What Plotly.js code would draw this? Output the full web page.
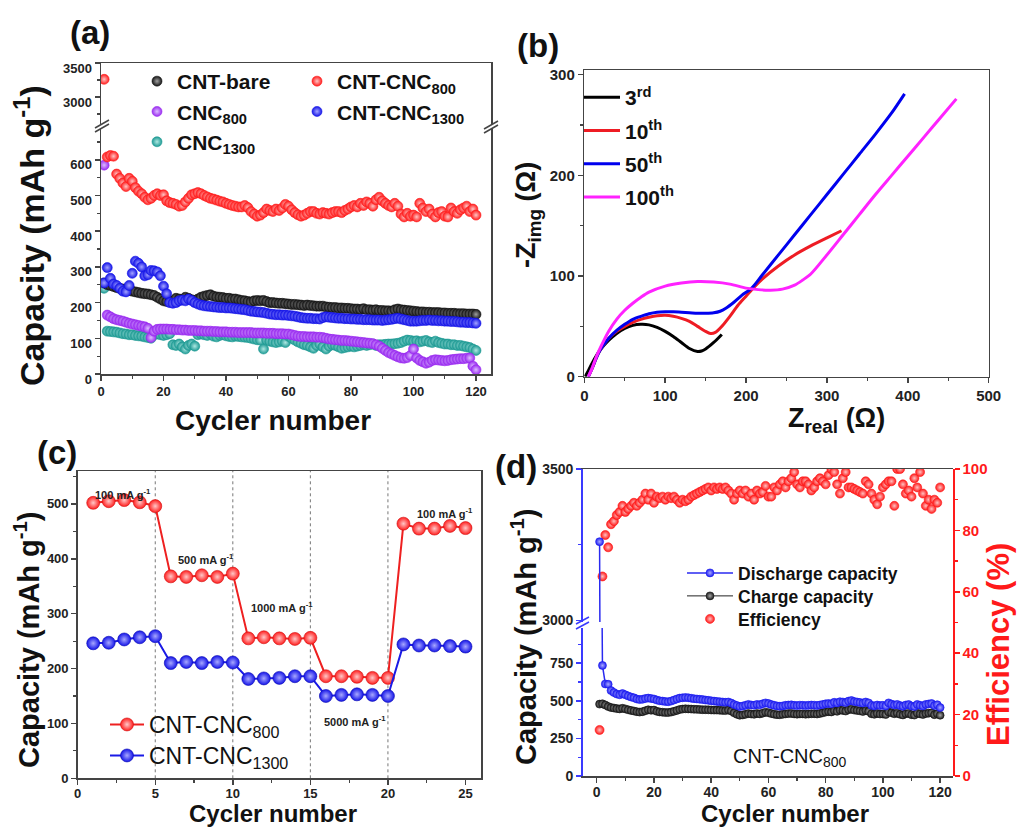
<!DOCTYPE html>
<html>
<head>
<meta charset="utf-8">
<script src="https://cdn.plot.ly/plotly-3.0.1.min.js"></script>
<style>
html,body{margin:0;padding:0;background:#fff;}
#chart{width:1024px;height:827px;}
</style>
</head>
<body>
<div id="chart"></div>
<script>
// ---------------- DATA ----------------
const cycles120 = [1,2,3,4,5,6,7,8,9,10,11,12,13,14,15,16,17,18,19,20,21,22,23,24,25,26,27,28,29,30,31,32,33,34,35,36,37,38,39,40,41,42,43,44,45,46,47,48,49,50,51,52,53,54,55,56,57,58,59,60,61,62,63,64,65,66,67,68,69,70,71,72,73,74,75,76,77,78,79,80,81,82,83,84,85,86,87,88,89,90,91,92,93,94,95,96,97,98,99,100,101,102,103,104,105,106,107,108,109,110,111,112,113,114,115,116,117,118,119,120];

// (a) cycling of all electrodes
const aCntCnc800 = [3260,608,612,610,560,548,535,525,548,540, 522,512,505,495,488,492,500,505,500,502, 485,480,478,475,470,472,482,492,502,505, 508,505,500,496,492,490,487,484,482,478, 475,472,470,468,468,472,466,455,448,442, 445,452,462,458,455,462,458,465,475,470, 460,452,446,442,445,450,455,455,450,448, 452,450,448,452,455,455,452,458,462,468, 472,468,478,472,482,478,470,488,495,485, 478,472,468,478,470,448,440,450,442,445, 440,478,465,455,462,448,440,452,455,442, 440,465,455,450,460,465,470,455,462,445];
const aCntBare = [255,250,248,245,242,240,238,236,234,232, 230,228,226,225,224,222,220,215,210,205, 203,202,205,212,210,208,215,212,208,205, 210,215,218,220,222,218,216,215,214,212, 212,210,210,208,206,205,203,202,205,206, 205,206,203,200,200,199,198,198,197,196, 195,195,194,193,192,193,192,191,190,190, 190,188,187,186,186,185,185,184,184,183, 182,182,181,183,180,180,179,180,178,178, 177,177,176,180,182,180,179,178,177,176, 175,174,174,173,173,172,172,172,171,171, 170,170,170,169,169,169,168,168,168,167];
const aCntCnc1300 = [255,298,268,252,248,240,232,230,248,282, 316,310,300,275,278,290,289,286,275,246, 225,200,198,200,205,207,205,210,206,200, 196,193,191,190,189,188,187,186,186,185, 185,184,183,182,181,180,178,176,175,174, 173,172,170,168,167,166,166,165,165,164, 163,162,160,158,157,156,156,155,155,154, 158,160,159,158,157,156,156,155,155,154, 154,153,153,152,152,152,151,151,151,150, 151,152,153,155,156,154,152,150,148,148, 148,149,150,150,151,150,150,149,149,148, 148,147,147,146,145,145,144,144,143,142];
const aCnc800 = [585,165,160,155,152,150,148,145,142,140, 138,136,134,132,128,102,120,125,126,126, 126,125,125,124,124,123,123,122,122,122, 121,121,120,120,120,119,119,118,118,118, 117,117,117,116,116,116,116,116,115,115, 115,115,114,114,114,113,113,113,112,112, 110,108,106,105,105,104,104,104,103,103, 102,100,98,97,96,95,94,94,93,92, 91,90,89,88,87,86,85,82,78,72, 66,60,56,52,48,45,44,46,52,70, 45,38,34,30,33,38,40,39,38,37, 38,40,41,42,43,43,44,45,22,12];
const aCnc1300 = [240,120,119,118,117,115,113,112,110,110, 108,107,106,104,102,100,110,112,110,108, 110,113,82,80,84,76,70,80,84,78, 110,112,110,108,112,106,104,108,110,107, 105,104,106,105,104,103,102,100,98,96, 95,70,95,92,90,88,90,92,88,106, 100,95,90,86,82,80,76,72,80,84, 76,70,78,82,80,76,72,74,76,78, 76,78,80,82,80,82,84,80,82,82, 83,84,84,85,86,88,92,95,94,92, 93,90,92,94,90,88,92,88,86,84, 84,82,82,80,80,78,76,74,70,66];

// (b) Nyquist plots
const eis3rdRe   = [1,5,10,15,20,30,40,50,60,70,80,90,100,110,120,130,140,145,150,160,170];
const eis3rdIm   = [0,6,14,21,27,36,43,48,51,52,51.5,49,45,40,34,28,25,25.5,27.5,34,42];
const eis10thRe  = [5,10,15,20,30,40,50,60,70,80,90,100,110,120,130,140,150,156,162,170,180,190,200,210,220,240,260,280,300,318];
const eis10thIm  = [0,9,19,27,38,45,50,54,57,59,60.5,61,60,58,55,50,45,43,44,50,60,71,80,89,97,110,121,130,138,145];
const eis50thRe  = [5,10,15,20,30,40,50,60,70,80,90,100,110,120,130,140,150,160,168,175,185,195,207,220,240,260,280,300,320,340,360,380,396];
const eis50thIm  = [0,9,19,27,38,46,52,57,60,62.5,64,64.5,64.5,64,63.5,63,63,63.5,65,68,74,81,88,101,121,141,161,181,201,221,241,262,281];
const eis100thRe = [5,10,15,20,30,40,50,60,70,80,100,120,140,160,180,200,215,230,245,260,270,280,300,320,340,360,380,400,420,440,460];
const eis100thIm = [0,9,20,29,45,57,66,73,79,84,90,93,94.5,94,92,88,86.5,86,87,91,96,102,121,141,161,181,200,219,238,257,276];

// (c) rate capability
const cycles25 = [1,2,3,4,5,6,7,8,9,10,11,12,13,14,15,16,17,18,19,20,21,22,23,24,25];
const rateCntCnc800  = [502,505,507,503,496,368,367,370,367,373,255,257,255,254,256,186,186,185,183,183,464,455,455,460,456];
const rateCntCnc1300 = [246,247,253,257,259,210,212,210,212,211,181,182,183,186,186,150,152,153,152,150,244,242,242,241,240];
const rateBoundaries = [5,10,15,20];
const rateLabels = ['100 mA g<sup>-1</sup>','500 mA g<sup>-1</sup>','1000 mA g<sup>-1</sup>','5000 mA g<sup>-1</sup>','100 mA g<sup>-1</sup>'];
const rateLabelX = [2.9, 8.3, 13.2, 17.9, 23.7];
const rateLabelY = [518, 400, 313, 105, 484];

// (d) CNT-CNC800 long cycling
const dDischarge = [3260,735,612,610,568,555,545,540,548,540, 532,525,520,512,508,510,515,518,515,512, 505,500,498,495,494,498,505,512,518,520, 522,520,517,514,512,510,508,505,503,500, 498,496,494,492,490,492,485,475,468,462, 465,470,476,472,470,476,474,480,486,482, 475,470,466,464,466,470,472,473,470,468, 471,470,468,470,472,471,469,472,476,480, 482,480,490,486,494,492,488,498,502,495, 492,489,485,492,486,470,466,472,468,470, 466,486,478,472,476,468,464,472,475,465, 462,476,470,466,476,479,482,468,474,455];
const dCharge = [478,480,472,462,455,452,448,446,450,446, 440,436,432,428,425,428,434,440,437,438, 430,426,424,422,422,425,430,436,442,445, 447,446,445,444,443,442,441,441,440,439, 438,438,437,436,435,438,432,420,410,404, 406,410,415,412,410,415,413,418,424,421, 415,411,408,407,410,413,415,416,413,411, 413,413,411,412,414,414,412,416,420,425, 428,426,434,430,438,436,432,441,444,438, 436,433,429,435,430,414,410,416,412,412, 409,426,420,414,418,410,406,414,416,408, 405,418,413,409,415,418,420,408,414,404];
const dEfficiency = [15,65,78.5,74.5,82,83,85,86,88,86, 87,88,89,88,89,90,92,90,92,89, 91,90.5,91,90,91,90.5,91,90,89,90, 89.5,90,91,91.5,92,92.5,93,93.5,94,93, 94,93.5,94,93.5,94,93,92,90,92,93, 92,93,91,92,90,93,92,92.5,94.5,91, 91,94,93,95,96,94,96,97,99,95, 94,96,96,95,93,94,96,97,96,95, 98,100,99,95,92,97,99,94,94,93.5, 93,92.5,92,96,95,92,90,88.5,91,94, 95,96,96,88,100,100,95,92,93,91, 97,94,99,92,88,90,87,90,89,94];

// ---------------- STYLE ----------------
const FONT = 'Arial, "Liberation Sans", Helvetica, sans-serif';
const W = 1024, H = 827;
const px = v => v / W;
const py = v => 1 - v / H;
const dom = (a, b) => [a, b];

function ball(color, hi, size, edge) {
  return {color: color, size: size, gradient: {type: 'radial', color: hi},
          line: {color: edge || color, width: 0.6}};
}

function axis(extra) {
  const base = {
    showline: true, linecolor: '#444', linewidth: 1.5,
    ticks: 'outside', ticklen: 5, tickwidth: 1.5, tickcolor: '#444',
    showgrid: false, zeroline: false, automargin: false, fixedrange: true,
    tickfont: {family: FONT, size: 13, color: '#222', weight: 'bold'},
    minor: {ticks: 'outside', ticklen: 3, tickwidth: 1.2, tickcolor: '#444'}
  };
  const out = Object.assign({}, base, extra);
  if (extra.minor) out.minor = Object.assign({}, base.minor, extra.minor);
  if (extra.tickfont) out.tickfont = Object.assign({}, base.tickfont, extra.tickfont);
  return out;
}

const C = {
  red: '#ff1e1e', redHi: '#ffc4c4',
  black: '#161616', blackHi: '#a0a0a0',
  purple: '#9a2cf0', purpleHi: '#dcbcff',
  teal: '#1f9a94', tealHi: '#aee8e2',
  blue: '#1616e8', blueHi: '#a4a4ff'
};

// ---------------- TRACES ----------------
const traces = [];
// (a)
traces.push({type:'scatter', mode:'markers', x:cycles120, y:aCnc1300, xaxis:'x', yaxis:'y', name:'CNC<sub>1300</sub>',
  marker: ball(C.teal, C.tealHi, 10), legend:'legend', legendgroup:'a5', legendrank:3});
traces.push({type:'scatter', mode:'markers', x:cycles120, y:aCnc800, xaxis:'x', yaxis:'y', name:'CNC<sub>800</sub>',
  marker: ball(C.purple, C.purpleHi, 10), legend:'legend', legendgroup:'a3', legendrank:2});
traces.push({type:'scatter', mode:'markers', x:cycles120, y:aCntBare, xaxis:'x', yaxis:'y', name:'CNT-bare',
  marker: ball(C.black, C.blackHi, 10), legend:'legend', legendgroup:'a1', legendrank:1});
traces.push({type:'scatter', mode:'markers', x:cycles120, y:aCntCnc1300, xaxis:'x', yaxis:'y', name:'CNT-CNC<sub>1300</sub>',
  marker: ball(C.blue, C.blueHi, 10), legend:'legend2', legendgroup:'a4', legendrank:2});
traces.push({type:'scatter', mode:'markers', x:cycles120, y:aCntCnc800, xaxis:'x', yaxis:'y', name:'CNT-CNC<sub>800</sub>',
  marker: ball(C.red, C.redHi, 10), legend:'legend2', legendgroup:'a2', legendrank:1});
traces.push({type:'scatter', mode:'markers', x:cycles120, y:aCntCnc800, xaxis:'x2', yaxis:'y2', showlegend:false,
  marker: ball(C.red, C.redHi, 10)});

// (b)
const eis = [
  [eis3rdRe, eis3rdIm, '3<sup>rd</sup>', '#000000'],
  [eis10thRe, eis10thIm, '10<sup>th</sup>', '#ee1c24'],
  [eis50thRe, eis50thIm, '50<sup>th</sup>', '#0000ee'],
  [eis100thRe, eis100thIm, '100<sup>th</sup>', '#ff22ff']
];
eis.forEach((e, i) => traces.push({type:'scatter', mode:'lines', x:e[0], y:e[1], xaxis:'x3', yaxis:'y3',
  name:e[2], line:{color:e[3], width:3, shape:'spline', smoothing:0.8}, legend:'legend3', legendgroup:'b'+i}));

// (c)
traces.push({type:'scatter', mode:'lines+markers', x:cycles25, y:rateCntCnc800, xaxis:'x4', yaxis:'y4',
  name:'CNT-CNC<sub>800</sub>', line:{color:'#ee2020', width:2}, marker: ball('#ff1e1e', '#ffc8c8', 13, '#d01010'),
  legend:'legend4'});
traces.push({type:'scatter', mode:'lines+markers', x:cycles25, y:rateCntCnc1300, xaxis:'x4', yaxis:'y4',
  name:'CNT-CNC<sub>1300</sub>', line:{color:'#1a1ae6', width:2}, marker: ball('#1414e8', '#a8a8ff', 13, '#0a0ab0'),
  legend:'legend6'});

// (d)
traces.push({type:'scatter', mode:'lines+markers', x:cycles120, y:dCharge, xaxis:'x5', yaxis:'y5',
  name:'Charge capacity', line:{color:'#222', width:1}, marker: ball('#1a1a1a', '#a8a8a8', 8),
  legend:'legend7'});
traces.push({type:'scatter', mode:'lines+markers', x:cycles120, y:dDischarge, xaxis:'x5', yaxis:'y5',
  name:'Discharge capacity', line:{color:'#2a2af0', width:1.5}, marker: ball('#1e1ef0', '#aaaaff', 8),
  legend:'legend5'});
traces.push({type:'scatter', mode:'lines+markers', x:cycles120, y:dDischarge, xaxis:'x6', yaxis:'y6',
  showlegend:false, line:{color:'#2a2af0', width:1.5}, marker: ball('#1e1ef0', '#aaaaff', 8)});
traces.push({type:'scatter', mode:'markers', x:cycles120, y:dEfficiency, xaxis:'x5', yaxis:'y7',
  name:'Efficiency', marker: ball('#ff1a1a', '#ffc0c0', 9), legend:'legend8'});

// ---------------- LAYOUT ----------------
function ann(text, x, y, size, opt) {
  return Object.assign({text: text, x: px(x), y: py(y), xref:'paper', yref:'paper', showarrow:false,
    xanchor:'center', yanchor:'middle',
    font:{family:FONT, size:size, color:'#111', weight:'bold'}}, opt || {});
}
const annotations = [
  ann('(a)', 90, 33, 33),
  ann('(b)', 538, 46, 33),
  ann('(c)', 57, 452, 33),
  ann('(d)', 516, 466, 33),
  ann('Capacity (mAh g<sup>-1</sup>)', 30, 236, 34, {textangle:-90}),
  ann('Cycler number', 273, 420, 28),
  ann('Z<sub>real</sub> (Ω)', 836, 420, 27),
  ann('-Z<sub>img</sub> (Ω)', 528, 215, 27, {textangle:-90}),
  ann('Capacity (mAh g<sup>-1</sup>)', 27, 640, 29, {textangle:-90}),
  ann('Cycler number', 273, 813.5, 24),
  ann('Capacity (mAh g<sup>-1</sup>)', 524, 637, 29, {textangle:-90}),
  ann('Cycler number', 785, 813.5, 24),
  ann('Efficiency (%)', 998, 645, 31, {textangle:-90, font:{family:FONT, size:31, color:'#ff1a1a', weight:'bold'}}),
  {text:'CNT-CNC<sub>800</sub>', x:67.5, y:125, xref:'x5', yref:'y5', showarrow:false,
   font:{family:FONT, size:20, color:'#111'}}
];
rateLabels.forEach((t, i) => annotations.push({text:t, x:rateLabelX[i], y:rateLabelY[i], xref:'x4', yref:'y4',
  showarrow:false, font:{family:FONT, size:11, color:'#222', weight:'bold'}}));

const shapes = [];
rateBoundaries.forEach(b => shapes.push({type:'line', xref:'x4', yref:'y4 domain', x0:b, x1:b, y0:0, y1:1,
  layer:'below', line:{color:'#777', width:1, dash:'dot'}}));
function brk(x0, y0, x1, y1, color) {
  shapes.push({type:'line', xref:'paper', yref:'paper', x0:px(x0), y0:py(y0), x1:px(x1), y1:py(y1),
    line:{color:color, width:1.5}});
}
brk(95, 128, 109, 120, '#444'); brk(95, 132, 109, 124, '#444');
brk(484, 129, 498, 121, '#444'); brk(484, 133, 498, 125, '#444');
brk(576, 624, 589, 617, '#3a3aff'); brk(576, 629, 589, 622, '#3a3aff');

function legendBox(x, y, size, gap, weight, itemwidth) {
  return {x: px(x), y: py(y), xanchor:'left', yanchor:'top', bgcolor:'rgba(0,0,0,0)', borderwidth:0,
    font:{family:FONT, size:size, color:'#111', weight:weight}, traceorder:'grouped', tracegroupgap:gap,
    itemwidth: itemwidth || 30};
}

const BLUE_AX = '#3a3aff', RED_AX = '#ff1a1a';
const layout = {
  width: W, height: H, margin:{l:0, r:0, t:0, b:0},
  paper_bgcolor:'#fff', plot_bgcolor:'rgba(0,0,0,0)', hovermode:false,
  showlegend:true,
  legend: legendBox(137, 61, 21, 0, 'bold'),
  legend2: legendBox(297, 61, 21, 0, 'bold'),
  legend3: legendBox(579, 77, 21, 3, 'bold', 36),
  legend4: legendBox(105, 703, 23, 0, 'normal', 34),
  legend6: legendBox(105, 734, 23, 0, 'normal', 34),
  legend5: legendBox(682, 555, 17.5, 0, 'bold', 46),
  legend7: legendBox(682, 578, 17.5, 0, 'bold', 46),
  legend8: legendBox(682, 601, 17.5, 0, 'bold', 46),
  // (a)
  xaxis: axis({domain:dom(px(101), px(491)), range:[0,124.8], anchor:'y', tick0:0, dtick:20, minor:{dtick:10}}),
  xaxis2: axis({domain:dom(px(101), px(491)), matches:'x', anchor:'y2', side:'top', ticks:'', showticklabels:false, minor:{ticks:''}}),
  yaxis: axis({domain:dom(py(374), py(128)), range:[0,689], anchor:'x', tick0:0, dtick:100, mirror:true, minor:{dtick:50}, ticklabelshift:5}),
  yaxis2: axis({domain:dom(py(124), py(63)), range:[2603,3500], anchor:'x2', tick0:0, dtick:500, mirror:true, minor:{dtick:250}, ticklabelshift:5}),
  // (b)
  xaxis3: axis({domain:dom(px(584.3), px(988.7)), range:[0,500], anchor:'y3', dtick:100, mirror:true, minor:{dtick:50}, tickfont:{size:15}}),
  yaxis3: axis({domain:dom(py(376.7), py(70)), range:[0,304.7], anchor:'x3', dtick:100, mirror:true, minor:{dtick:50}, tickfont:{size:15}}),
  // (c)
  xaxis4: axis({domain:dom(px(77.7), px(481)), range:[0,26], anchor:'y4', dtick:5, mirror:true, minor:{dtick:2.5}, ticklabelstandoff:-2}),
  yaxis4: axis({domain:dom(py(778.3), py(471)), range:[0,560], anchor:'x4', dtick:100, mirror:true, minor:{dtick:50}}),
  // (d)
  xaxis5: axis({domain:dom(px(582.7), px(953)), range:[-4.9,124.5], anchor:'y5', tick0:0, dtick:20, minor:{dtick:10}, tickfont:{size:14}, ticklabelstandoff:-2}),
  xaxis6: axis({domain:dom(px(582.7), px(953)), matches:'x5', anchor:'y6', side:'top', ticks:'', showticklabels:false, minor:{ticks:''}}),
  yaxis5: axis({domain:dom(py(776), py(628)), range:[0,984], anchor:'x5', tick0:0, dtick:250, linecolor:BLUE_AX, tickcolor:BLUE_AX,
    minor:{dtick:125, tickcolor:BLUE_AX}, tickfont:{size:14}}),
  yaxis6: axis({domain:dom(py(622), py(469)), range:[2995,3500], anchor:'x6', tick0:0, dtick:500, linecolor:BLUE_AX, tickcolor:BLUE_AX,
    minor:{dtick:250, tickcolor:BLUE_AX}, tickfont:{size:14}}),
  yaxis7: axis({domain:dom(py(776), py(469)), range:[0,100], anchor:'x5', side:'right', dtick:20, linecolor:RED_AX, tickcolor:RED_AX,
    minor:{dtick:10, tickcolor:RED_AX}, tickfont:{size:15, color:RED_AX}}),
  annotations: annotations,
  shapes: shapes
};

Plotly.newPlot('chart', traces, layout, {staticPlot:true, displayModeBar:false});
</script>
</body>
</html>
